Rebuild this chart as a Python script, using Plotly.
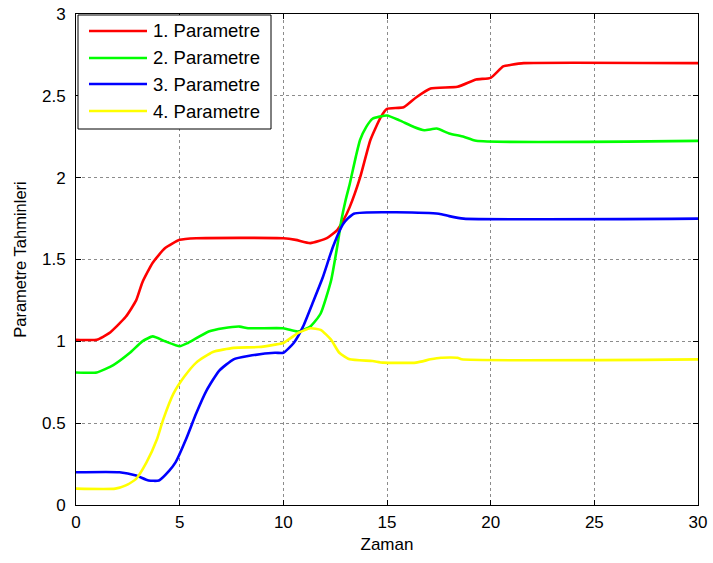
import plotly.graph_objects as go

# Parameter estimates over time (Zaman)
t1 = [0, 1.0, 1.6, 2.4, 2.9, 3.2, 3.7, 4.3, 5.0, 5.8, 10.0, 10.6, 11.3, 12.1, 12.6, 12.9,
      13.2, 13.7, 14.2, 14.7, 15.0, 15.8, 16.4, 17.1, 18.4, 19.3, 20.0, 20.6, 21.0, 21.6, 30]
p1 = [1.01, 1.01, 1.05, 1.15, 1.25, 1.36, 1.48, 1.57, 1.62, 1.63, 1.63, 1.62, 1.60, 1.63, 1.68, 1.74,
      1.82, 2.00, 2.23, 2.37, 2.42, 2.43, 2.49, 2.545, 2.555, 2.60, 2.61, 2.68, 2.69, 2.70, 2.70]

t2 = [0, 1.0, 1.8, 2.6, 3.2, 3.7, 4.3, 5.0, 5.4, 6.4, 7.1, 7.9, 8.3, 10.0, 10.7, 11.3, 11.8,
      12.3, 12.6, 12.8, 13.0, 13.2, 13.5, 13.7, 14.0, 14.3, 15.0, 15.6, 16.3, 16.8, 17.4, 18.0,
      18.7, 19.3, 30]
p2 = [0.81, 0.81, 0.855, 0.93, 1.0, 1.03, 1.0, 0.97, 0.99, 1.06, 1.08, 1.09, 1.08, 1.08, 1.06, 1.09, 1.17,
      1.37, 1.58, 1.74, 1.86, 1.96, 2.13, 2.23, 2.31, 2.36, 2.38, 2.35, 2.31, 2.29, 2.30, 2.27,
      2.25, 2.225, 2.225]

t3 = [0, 2.1, 2.9, 3.5, 4.0, 4.5, 4.8, 5.3, 5.8, 6.3, 6.9, 7.6, 8.3, 9.6, 10.0, 10.5, 10.95,
      11.4, 11.9, 12.4, 12.9, 13.4, 17.5, 18.0, 18.7, 30]
p3 = [0.20, 0.20, 0.18, 0.15, 0.15, 0.21, 0.26, 0.40, 0.56, 0.70, 0.82, 0.89, 0.91, 0.93, 0.93, 0.99, 1.09,
      1.23, 1.39, 1.58, 1.72, 1.78, 1.78, 1.765, 1.75, 1.75]

t4 = [0, 1.9, 2.4, 2.9, 3.4, 3.9, 4.2, 4.7, 5.2, 5.8, 6.6, 7.6, 8.8, 9.6, 10.0, 10.7, 11.3, 11.8,
      12.3, 12.7, 13.2, 14.3, 14.8, 16.4, 17.1, 17.6, 18.4, 18.6, 30]
p4 = [0.10, 0.10, 0.12, 0.16, 0.26, 0.40, 0.52, 0.68, 0.78, 0.87, 0.935, 0.96, 0.965, 0.98, 0.99, 1.05, 1.08, 1.07,
      1.01, 0.93, 0.89, 0.88, 0.87, 0.87, 0.89, 0.90, 0.90, 0.89, 0.89]

names = ["1. Parametre", "2. Parametre", "3. Parametre", "4. Parametre"]
colors = ["#ff0000", "#00ff00", "#0000ff", "#ffff00"]
series = [(t1, p1), (t2, p2), (t3, p3), (t4, p4)]

FONT = "Arial, 'Liberation Sans', sans-serif"

# Figure geometry (pixels)
W, H = 713, 563
ML, MR, MT, MB = 76, 15, 14, 58
PW, PH = W - ML - MR, H - MT - MB


def px_x(px):
    return (px - ML) / PW


def px_y(py):
    return (H - MB - py) / PH


fig = go.Figure()
for (t, p), name, col in zip(series, names, colors):
    fig.add_trace(go.Scatter(
        x=t, y=p, mode="lines", name=name,
        line=dict(color=col, width=2.6, shape="spline", smoothing=0.5),
    ))

axis_common = dict(
    showline=True, linecolor="black", linewidth=1, mirror="ticks",
    ticks="inside", ticklen=5, tickcolor="black", tickwidth=1,
    showgrid=True, gridcolor="#8c8c8c", gridwidth=1, griddash="dot",
    zeroline=False, automargin=False,
    tickfont=dict(family=FONT, size=17, color="black"),
)

fig.update_xaxes(range=[0, 30], tickvals=[0, 5, 10, 15, 20, 25, 30],
                 title=dict(text="Zaman", font=dict(family=FONT, size=17, color="black"), standoff=6),
                 ticklabelstandoff=2, **axis_common)
fig.update_yaxes(range=[0, 3], tickvals=[0, 0.5, 1, 1.5, 2, 2.5, 3],
                 ticktext=["0", "0.5", "1", "1.5", "2", "2.5", "3"],
                 title=dict(text="Parametre Tahminleri", font=dict(family=FONT, size=16.5, color="black"), standoff=11),
                 ticklabelstandoff=6, **axis_common)

# Legend box in the upper-left corner of the axes
shapes = [dict(type="rect", xref="paper", yref="paper",
               x0=px_x(78), x1=px_x(271), y0=px_y(129), y1=px_y(15),
               line=dict(color="black", width=1), fillcolor="white", layer="above")]
annotations = []
row_y = [31, 58, 84, 111]
for name, col, ry in zip(names, colors, row_y):
    shapes.append(dict(type="line", xref="paper", yref="paper",
                       x0=px_x(89), x1=px_x(147), y0=px_y(ry), y1=px_y(ry),
                       line=dict(color=col, width=2.6), layer="above"))
    annotations.append(dict(xref="paper", yref="paper", x=px_x(151), y=px_y(ry),
                            xanchor="left", yanchor="middle", showarrow=False,
                            text=name, font=dict(family=FONT, size=18.5, color="black")))

fig.update_layout(
    width=W, height=H,
    margin=dict(l=ML, r=MR, t=MT, b=MB),
    paper_bgcolor="white", plot_bgcolor="white",
    showlegend=False,
    shapes=shapes, annotations=annotations,
)

fig.write_html("out.html")
